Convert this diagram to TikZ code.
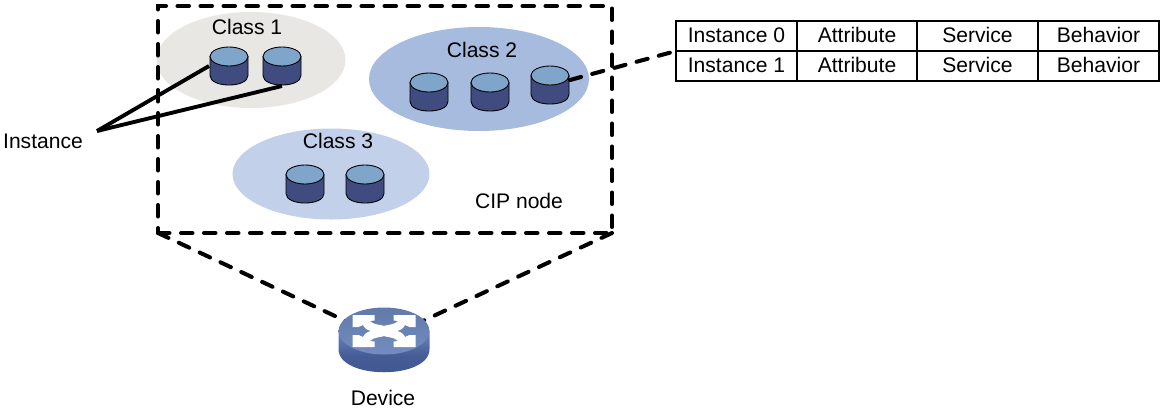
\documentclass[tikz,border=0pt]{standalone}
\usepackage{fontspec}
\setmainfont{Liberation Sans}
\usepackage{tikz}
\usetikzlibrary{positioning, backgrounds, shapes.geometric}
\definecolor{clsone}{HTML}{E8E7E4}
\definecolor{clstwo}{HTML}{A6BBDE}
\definecolor{clsthree}{HTML}{C2D0EA}
\definecolor{insttop}{HTML}{7FA6CA}
\definecolor{instbody}{HTML}{404C80}
\definecolor{devtop}{HTML}{6C87BD}
\definecolor{devbody}{HTML}{3F5590}

\begin{document}
\begin{tikzpicture}[
  x=0.2mm, y=-0.2mm,
  font=\fontsize{12pt}{14pt}\selectfont,
  cls/.style={ellipse, draw=none, inner sep=0pt},
  inst/.style={minimum size=8mm, inner sep=0pt, outer sep=0pt,
    path picture={
      \begin{scope}[shift={(path picture bounding box.center)}, draw=black, line width=0.5pt]
        \filldraw[fill=instbody] (-19,-9.5) -- (-19,9.5) .. controls (-19,22.2) and (19,22.2) .. (19,9.5) -- (19,-9.5) -- cycle;
        \filldraw[fill=insttop] (0,-9.5) ellipse (19 and 9.5);
      \end{scope}}},
  devnode/.style={minimum width=18.8mm, minimum height=13.8mm, inner sep=0pt, outer sep=0pt,
    path picture={
      \begin{scope}[shift={(path picture bounding box.center)}]
        \shade[top color=devtop, bottom color=devbody, middle color=devbody!85!devtop]
          (-45.5,-8) -- (-45.5,10) .. controls (-45.5,41) and (45.5,41) .. (45.5,10) -- (45.5,-8) -- cycle;
        \shade[top color=devtop!90!black, bottom color=devtop!95!white] (0,-8) ellipse (45.5 and 23.5);
        % white arrows in the four corners
        \foreach \sx/\sy in {1/1, -1/1, 1/-1, -1/-1} {
          \fill[white]
            (\sx*31.5,-8-\sy*16) -- (\sx*9.5,-8-\sy*16) -- (\sx*9.5,-8-\sy*10.5) -- (\sx*14,-8-\sy*10)
            .. controls (\sx*8,-8-\sy*5) and (\sx*4,-8-\sy*7) .. (0,-8-\sy*5) -- (0,-8)
            -- (\sx*13,-8) .. controls (\sx*18,-8-\sy*1) and (\sx*20,-8-\sy*4) .. (\sx*21,-8-\sy*6)
            -- (\sx*25.5,-8-\sy*4) -- (\sx*31.5,-8-\sy*4) -- cycle;
        }
      \end{scope}}},
  cell/.style={draw=black, line width=0.85pt, minimum height=6mm, inner sep=0pt, outer sep=0pt,
               text depth=0.5mm},
  thickln/.style={draw=black, line width=2.2pt},
  dashln/.style={draw=black, line width=2.3pt, line cap=round, dash pattern=on 2.3mm off 2.3mm}
]
\useasboundingbox (0,0) rectangle (1164,416);

% ================================================= class ellipses
\node[cls, minimum width=37.8mm, minimum height=19.2mm, fill=clsone]   (c1) at (251,60)  {};
\node[cls, minimum width=44mm,   minimum height=20.8mm, fill=clstwo]   (c2) at (479,79)  {};
\node[cls, minimum width=39.4mm, minimum height=18.2mm, fill=clsthree] (c3) at (331,174) {};

\node (c1t) at (247,27)  {Class 1};
\node (c2t) at (482,50)  {Class 2};
\node (c3t) at (338,141) {Class 3};

% ================================================= instances
\node[inst] (i11) at (229,66)  {};
\node[inst] (i12) at (282,66)  {};
\node[inst] (i21) at (429,92)  {};
\node[inst] (i22) at (490,92)  {};
\node[inst] (i23) at (550,85)  {};
\node[inst] (i31) at (305,184) {};
\node[inst] (i32) at (365,184) {};

% ================================================= CIP node box
\node[dashln, minimum width=90.8mm, minimum height=45.4mm, inner sep=0pt, outer sep=0pt]
  (cip) at (385,119.5) {};
\node (ciplab) at (519,201) {CIP node};

% ================================================= device
\node[devnode] (dev) at (384,339) {};
\node (devlab) at (383,398) {Device};

\begin{scope}[on background layer]
  \draw[dashln] (cip.south west) -- (dev.center);
  \draw[dashln] (cip.south east) -- (dev.center);
\end{scope}

% ================================================= table
\foreach \r/\ya/\lab in {0/36/Instance 0, 1/66/Instance 1} {
  \node[cell, minimum width=24.2mm] (r\r a) at (736.5,\ya) {\lab};
  \node[cell, minimum width=24mm, right=0pt of r\r a]  (r\r b) {Attribute};
  \node[cell, minimum width=24.2mm, right=0pt of r\r b] (r\r c) {Service};
  \node[cell, minimum width=24.2mm, right=0pt of r\r c] (r\r d) {Behavior};
}

% ================================================= connectors
\node (instlab) at (43,141) {Instance};
\coordinate (instfork) at (97,131);
\draw[thickln] (instfork) -- (i11.west);
\draw[thickln] (instfork) -- (i12.south);
\draw[dashln] ([yshift=1mm]i23.east) -- (r0a.south west);

\end{tikzpicture}
\end{document}
